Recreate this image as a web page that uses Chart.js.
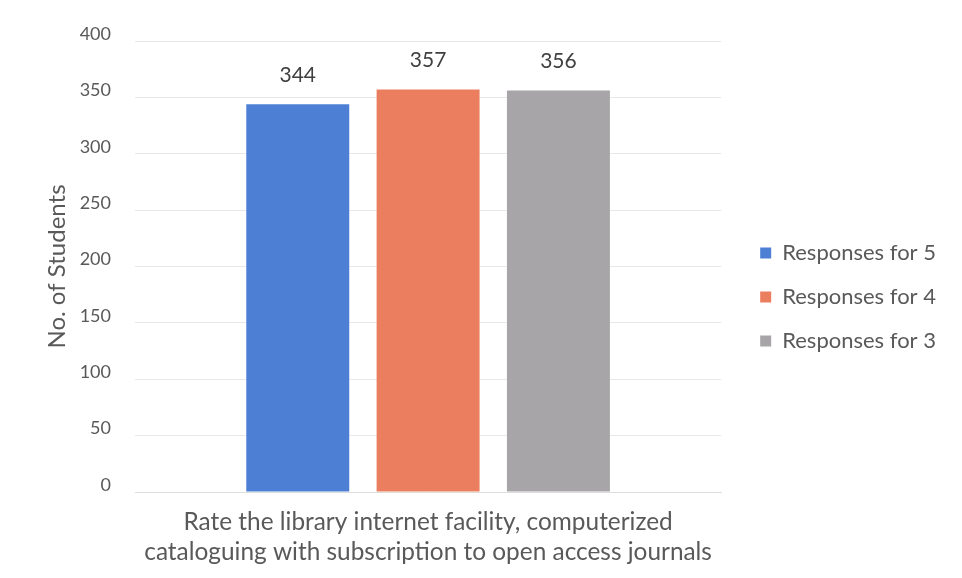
<!DOCTYPE html>
<html>
<head>
<meta charset="utf-8">
<script src="https://cdn.jsdelivr.net/npm/chart.js@4"></script>
<style>
  html, body { margin: 0; padding: 0; background: #fff; }
  #wrap { width: 962px; height: 578px; }
</style>
</head>
<body>
<div id="wrap"><canvas id="myChart" width="962" height="578"></canvas></div>
<script>
const categories = [['Rate the library internet facility, computerized', 'cataloguing with subscription to open access journals']];
const seriesNames = ['Responses for 5', 'Responses for 4', 'Responses for 3'];
const responses5 = [344];
const responses4 = [357];
const responses3 = [356];
const yTicks = [0, 50, 100, 150, 200, 250, 300, 350, 400];

const colors = ['#4d80d4', '#ec7e60', '#a7a5a7'];
const textColor = '#595959';
const fontFamily = 'Lato, "Open Sans", sans-serif';

// draws the value above each bar
const valueLabels = {
  id: 'valueLabels',
  afterDatasetsDraw(chart) {
    const ctx = chart.ctx;
    ctx.save();
    ctx.fillStyle = '#404040';
    ctx.font = '21px ' + fontFamily;
    ctx.textAlign = 'center';
    ctx.textBaseline = 'middle';
    chart.data.datasets.forEach((ds, i) => {
      chart.getDatasetMeta(i).data.forEach((bar, j) => {
        ctx.fillText(ds.data[j], bar.x, bar.y - 29);
      });
    });
    ctx.restore();
  }
};

// empty axes used only as spacers around the plot
const spacer = size => ({
  type: 'linear',
  display: true,
  grid: { display: false },
  border: { display: false },
  ticks: { display: false },
  afterFit: axis => {
    if (axis.isHorizontal()) axis.height = size; else axis.width = size;
  }
});

new Chart(document.getElementById('myChart'), {
  type: 'bar',
  data: {
    labels: categories,
    datasets: [
      { label: seriesNames[0], data: responses5, backgroundColor: colors[0] },
      { label: seriesNames[1], data: responses4, backgroundColor: colors[1] },
      { label: seriesNames[2], data: responses3, backgroundColor: colors[2] }
    ]
  },
  options: {
    responsive: false,
    animation: false,
    categoryPercentage: 0.667,
    barPercentage: 0.79,
    layout: { padding: { top: 16, right: 16, left: 43, bottom: 0 } },
    plugins: {
      tooltip: { enabled: false },
      legend: {
        position: 'right',
        maxWidth: 260,
        labels: {
          color: textColor,
          font: { size: 22, family: fontFamily },
          boxWidth: 11,
          boxHeight: 11,
          padding: 22
        }
      }
    },
    scales: {
      x: {
        grid: { display: false },
        border: { color: '#dedede' },
        ticks: { color: textColor, font: { size: 24.4, family: fontFamily, lineHeight: 1.23 }, padding: 7 },
        afterFit: axis => { axis.height = 86; }
      },
      y: {
        min: 0,
        max: 400,
        afterBuildTicks: axis => { axis.ticks = yTicks.map(v => ({ value: v })); },
        grid: { color: '#e8e8e8', drawTicks: false },
        border: { display: false },
        ticks: { color: textColor, font: { size: 18, family: fontFamily }, padding: 24, labelOffset: -7 },
        title: { display: true, text: 'No. of Students', color: textColor, font: { size: 24, family: fontFamily }, padding: { top: 0, bottom: 6 } },
        afterFit: axis => { axis.width = 92; }
      },
      xTop: Object.assign(spacer(25), { position: 'top' }),
      yRight: Object.assign(spacer(17), { position: 'right' })
    }
  },
  plugins: [valueLabels]
});
</script>
</body>
</html>
